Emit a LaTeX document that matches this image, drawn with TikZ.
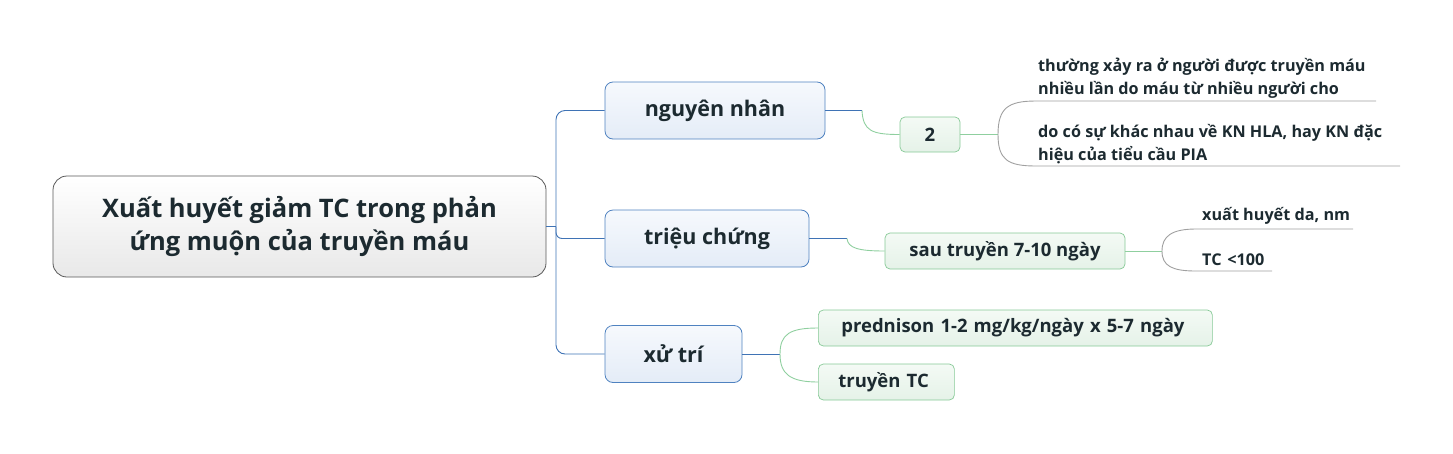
\documentclass[tikz,border=0pt]{standalone}
\usepackage{fontspec}
\setmainfont{Open Sans}
\usetikzlibrary{shapes.misc}
\definecolor{blueln}{HTML}{3F73B5}
\definecolor{bluebd}{HTML}{4F82C0}
\definecolor{bluetop}{HTML}{F6F9FD}
\definecolor{bluebot}{HTML}{E4ECF7}
\definecolor{greenln}{HTML}{8FCF9F}
\definecolor{greenbd}{HTML}{86C996}
\definecolor{greentop}{HTML}{F4FAF5}
\definecolor{greenbot}{HTML}{E5F2E8}
\definecolor{grayln}{HTML}{A0A0A0}
\definecolor{txt}{HTML}{1C2A30}
\tikzset{
  root/.style={draw=black!65, line width=0.8pt, rounded corners=14pt, top color=white, bottom color=black!9,
    minimum width=493pt, minimum height=101pt, align=center, text=txt, font=\fontsize{25.5}{33}\selectfont\bfseries},
  mainbox/.style={draw=bluebd, line width=0.8pt, rounded corners=8pt, top color=bluetop, bottom color=bluebot,
    minimum height=57pt, text=txt, font=\fontsize{21.5}{25}\selectfont\bfseries},
  subbox/.style={draw=greenbd, line width=0.7pt, rounded corners=5pt, top color=greentop, bottom color=greenbot,
    minimum height=36pt, text=txt, font=\fontsize{18.5}{22}\selectfont\bfseries},
  leaf/.style={anchor=west, align=left, inner sep=0pt, text=txt, font=\fontsize{16.2}{22.5}\selectfont\bfseries},
  blueline/.style={draw=blueln, line width=0.9pt},
  greenline/.style={draw=greenln, line width=0.9pt},
  grayline/.style={draw=grayln, line width=0.9pt},
}
\begin{document}
\begin{tikzpicture}[x=1pt,y=-1pt]
\useasboundingbox (0,0) rectangle (1453,453);
% nodes
\node[root] (root) at (299.5,226.5) {Xuất huyết giảm TC trong phản\\ứng muộn của truyền máu};
\node[mainbox, minimum width=220pt] (n1) at (715,110.5) {nguyên nhân};
\node[mainbox, minimum width=204pt] (n2) at (707,238.5) {triệu chứng};
\node[mainbox, minimum width=137pt] (n3) at (673.5,354) {xử trí};
\node[subbox, minimum width=60pt, minimum height=35pt] (two) at (930,134.5) {2};
\node[subbox, minimum width=240pt] (sau) at (1005,251) {sau truyền 7-10 ngày};
\node[subbox, minimum width=394pt, anchor=west, inner xsep=23pt, text width=348pt, align=left] (pred) at (818,328) {prednison 1-2 mg/kg/ngày x 5-7 ngày};
\node[subbox, minimum width=136pt, anchor=west, inner xsep=20pt, text width=96pt, align=left] (tc) at (818,382) {truyền TC};
\node[leaf] (l1) at (1038,78) {thường xảy ra ở người được truyền máu\\nhiều lần do máu từ nhiều người cho};
\node[leaf] (l2) at (1038,144) {do có sự khác nhau về KN HLA, hay KN đặc\\hiệu của tiểu cầu PIA};
\node[leaf] (l3) at (1202,216) {xuất huyết da, nm};
\node[leaf] (l4) at (1202,260) {TC {\kern1.5pt}<100};
% coordinates
\coordinate (sp) at (556,226.5);
\coordinate (j1) at (862,110.5);
\coordinate (j2) at (847,238.5);
\coordinate (j3) at (780,354);
\coordinate (b1) at (998,134.5);
\coordinate (b2) at (1162,251);
% spine
\draw[blueline] (root.east) -- (sp);
\draw[blueline, rounded corners=9pt] (sp) |- (n1.west);
\draw[blueline, rounded corners=6pt] (sp) |- (n2.west);
\draw[blueline, rounded corners=9pt] (sp) |- (n3.west);
% level 2
\draw[blueline] (n1.east) -- (j1);
\draw[greenline] (j1) .. controls (863,131) and (872,134.5) .. (two.west);
\draw[blueline] (n2.east) -- (j2);
\draw[greenline] (j2) .. controls (848,248) and (858,251) .. (sau.west);
\draw[blueline] (n3.east) -- (j3);
\draw[greenline] (j3) .. controls (780,334) and (790,328) .. (pred.west);
\draw[greenline] (j3) .. controls (780,374) and (790,382) .. (tc.west);
% level 3
\draw[greenline] (two.east) -- (b1);
\draw[grayline] (b1) .. controls (998,108) and (1008,101) .. (1036,101) -- (1376,101);
\draw[grayline] (b1) .. controls (998,160) and (1008,166) .. (1036,166) -- (1400,166);
\draw[greenline] (sau.east) -- (b2);
\draw[grayline] (b2) .. controls (1162,236) and (1172,229) .. (1196,229) -- (1353,229);
\draw[grayline] (b2) .. controls (1162,266) and (1172,271) .. (1196,271) -- (1272,271);
\end{tikzpicture}
\end{document}
